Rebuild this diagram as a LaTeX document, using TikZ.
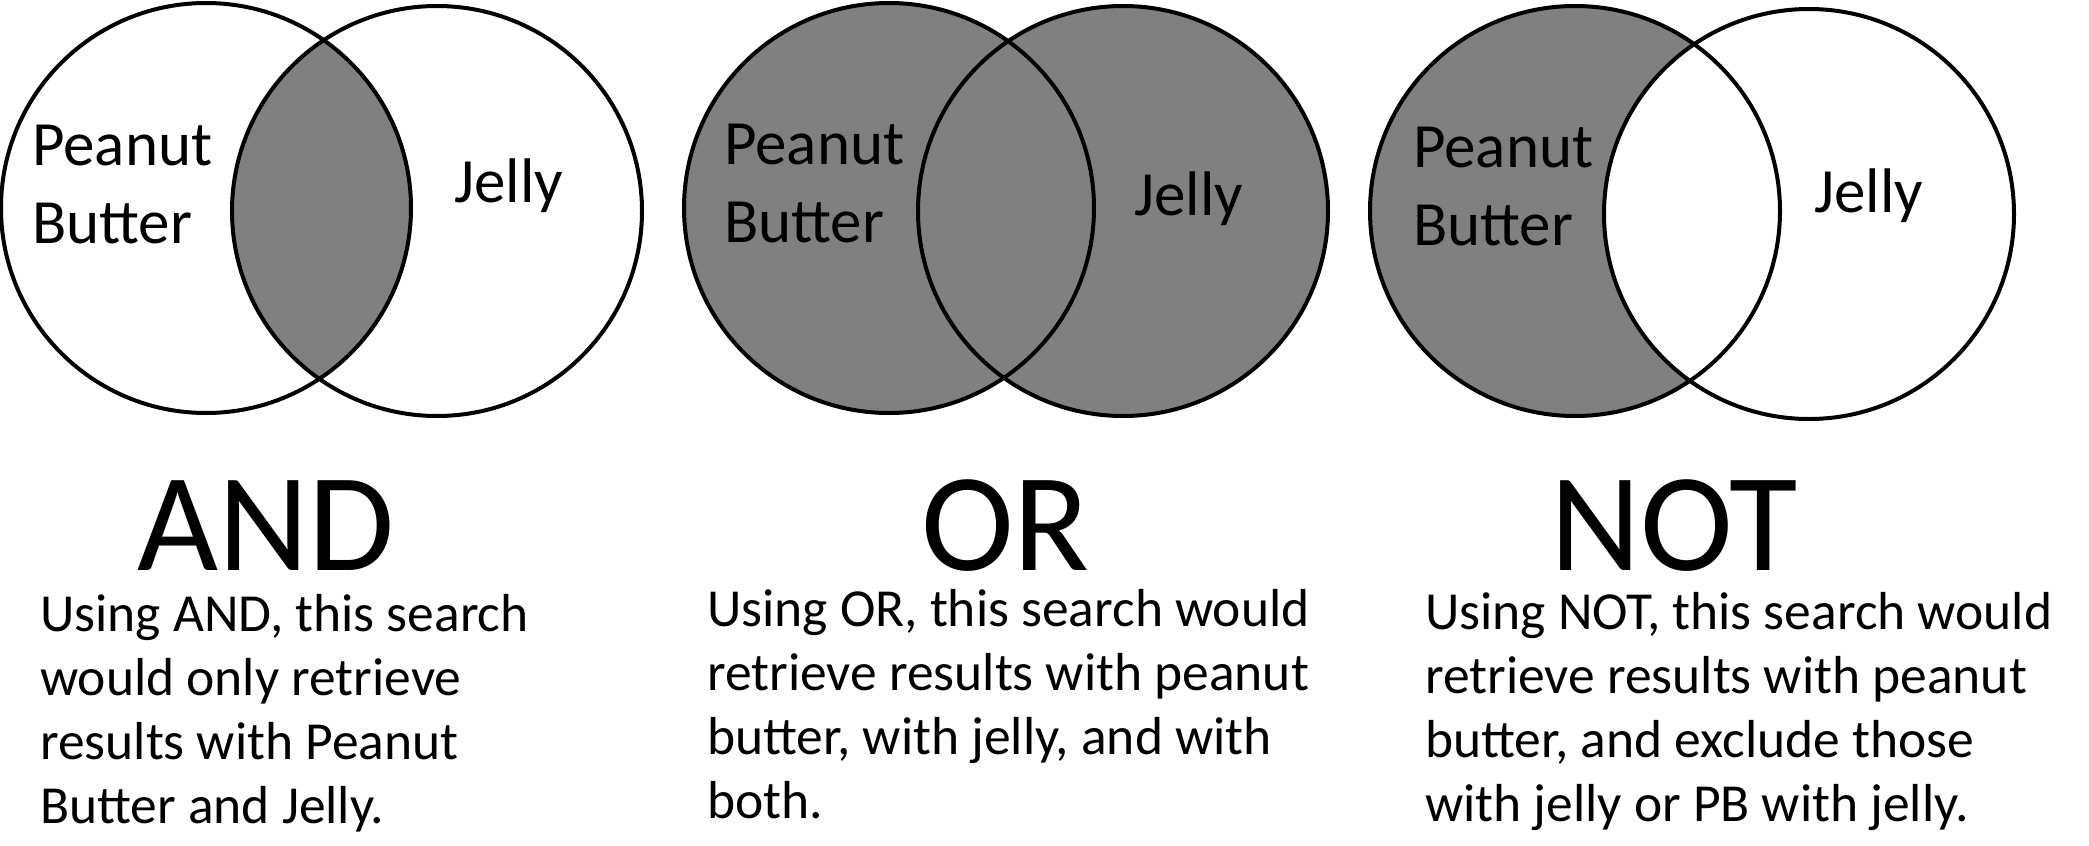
\documentclass[tikz,border=0pt]{standalone}
\usepackage{fontspec}
\setmainfont{Carlito}
\usetikzlibrary{positioning}
\tikzset{
	set/.style={
		draw,
		line width=4pt
	},
	shaded/.style={
		fill=black!50
	},
	set label/.style={
		anchor=base west,
		inner sep=0pt,
		align=left,
		font=\fontsize{63}{78}\selectfont
	},
	op label/.style={
		anchor=base west,
		inner sep=0pt,
		text depth=0pt,
		font=\fontsize{140}{168}\selectfont
	},
	note/.style={
		anchor=base west,
		inner sep=0pt,
		align=left,
		font=\fontsize{53.5}{64}\selectfont
	}
}

\begin{document}
\begin{tikzpicture}[x=1pt, y=-1pt]
	\useasboundingbox (0,0) rectangle (2089,846);
	\coordinate (andP) at (206,208);
	\coordinate (andJ) at (437,211);
	\coordinate (orP) at (889,208);
	\coordinate (orJ) at (1123,211);
	\coordinate (notP) at (1575,211);
	\coordinate (notJ) at (1809,214);

	\begin{scope}
		\clip (andP) circle[radius=205pt];
		\fill[shaded] (andJ) circle[radius=205pt];
	\end{scope}
	\fill[shaded] (orP) circle[radius=205pt] (orJ) circle[radius=205pt];
	\fill[shaded] (notP) circle[radius=205pt];
	\fill[white] (notJ) circle[radius=205pt];
	\foreach \c in {andP, andJ, orP, orJ, notP, notJ}
		\draw[set] (\c) circle[radius=205pt];

	\node[set label] (andPB) at (32,243) {Peanut\\Butter};
	\node[set label] (andJL) at (454,202) {Jelly};
	\node[set label] (orPB) at (724,242) {Peanut\\Butter};
	\node[set label] (orJL) at (1134,215) {Jelly};
	\node[set label] (notPB) at (1413,245) {Peanut\\Butter};
	\node[set label] (notJL) at (1814,212) {Jelly};

	\node[op label] (andOp) at (137,570) {AND};
	\node[op label] (orOp) at (921,570) {OR};
	\node[op label] (notOp) at (1550,570) {NOT};

	\node[note] (andNote) at (40,823) {Using AND, this search\\would only retrieve\\results with Peanut\\Butter and Jelly.};
	\node[note] (orNote) at (707,818) {Using OR, this search would\\retrieve results with peanut\\butter, with jelly, and with\\both.};
	\node[note] (notNote) at (1425,821) {Using NOT, this search would\\retrieve results with peanut\\butter, and exclude those\\with jelly or PB with jelly.};
\end{tikzpicture}
\end{document}
